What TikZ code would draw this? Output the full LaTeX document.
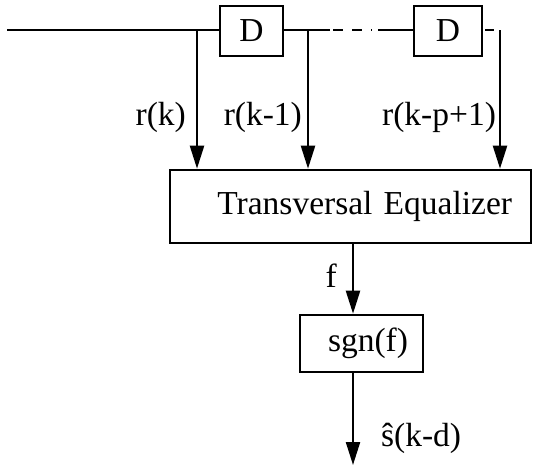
\documentclass[tikz,border=0pt]{standalone}
\usepackage{fontspec}
\setmainfont{Liberation Serif}
\usepackage{tikz}
\usetikzlibrary{arrows.meta, positioning}

\begin{document}
\begin{tikzpicture}[
  x=1pt, y=-1pt,
  every node/.style={font=\fontsize{33.5}{38}\selectfont},
  block/.style={draw, line width=2.6pt, inner sep=0pt},
  wire/.style={line width=2.2pt},
  arr/.style={wire, -{Triangle[length=23pt,width=14pt]}},
  lbl/.style={inner sep=0pt}
]
\useasboundingbox (0,0) rectangle (535,467);
\node[block, minimum width=63pt, minimum height=50pt] (d1) at (251.5,31) {D};
\node[block, minimum width=68pt, minimum height=50pt] (d2) at (448,31) {D};
\node[block, minimum height=73pt, text width=323pt, align=right, inner xsep=19pt] (eq) at (350.5,206.5) {Transversal Equalizer};
\node[block, minimum height=57pt, text width=93pt, align=right, inner xsep=15pt] (sgn) at (361.5,343.5) {sgn(f)};
\coordinate (in) at (7,30);
\coordinate (t1) at (197,30);
\coordinate (t2) at (308,30);
\coordinate (t3) at (500,30);
\coordinate (g1) at (330,30);
\coordinate (g2) at (333,30);
\coordinate (g3) at (372,30);
\coordinate (g4) at (378,30);
\coordinate (out) at (353,465);
\draw[wire] (in) -- (d1.west |- in);
\draw[wire] (d1.east |- in) -- (g1);
\draw[wire, dash pattern=on 10pt off 9pt] (g2) -- (g3);
\draw[wire] (g4) -- (d2.west |- in);
\draw[wire, shorten <=2pt, dash pattern=on 9pt off 20pt] (d2.east |- in) -- (t3);
\draw[arr] (t1) -- node[lbl, pos=0.69, anchor=base east, xshift=-10pt] {r(k)} (t1 |- eq.north);
\draw[arr] (t2) -- node[lbl, pos=0.69, anchor=base east, xshift=-5pt] {r(k-1)} (t2 |- eq.north);
\draw[arr] (t3) -- node[lbl, pos=0.69, anchor=base east, xshift=-3pt] {r(k-p+1)} (t3 |- eq.north);
\draw[arr] (eq.south -| out) -- node[lbl, pos=0.62, anchor=base east, xshift=-15pt] {f} (sgn.north -| out);
\draw[arr] (sgn.south -| out) -- node[lbl, pos=0.8, anchor=base west, xshift=27pt] {\^{s}(k-d)} (out);
\end{tikzpicture}
\end{document}
